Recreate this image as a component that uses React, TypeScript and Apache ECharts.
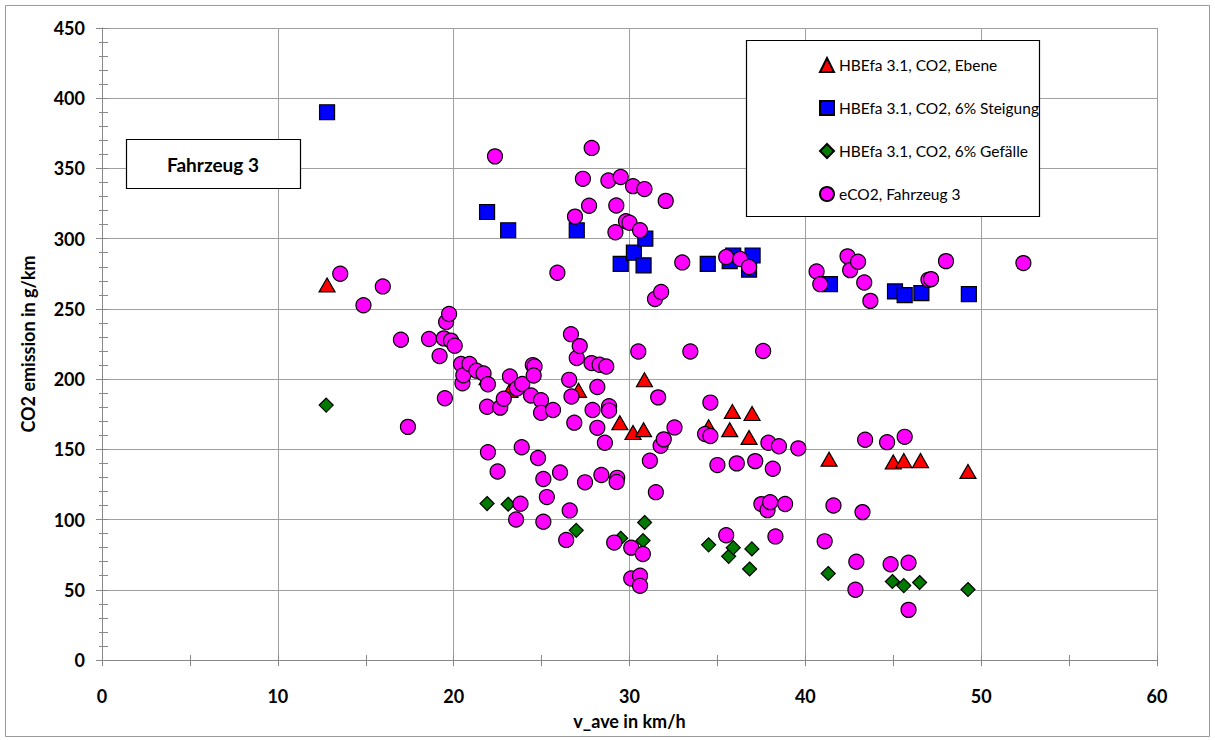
import React, { useEffect, useRef } from "react";
import * as echarts from "echarts";

// [v_ave km/h, CO2 g/km]
const ebene: number[][] = [
  [12.8, 267], [21.9, 201], [23.2, 192], [27.1, 192], [29.45, 169], [30.2, 162], [30.8, 164],
  [30.85, 199.5], [34.5, 166], [35.7, 164], [35.85, 177], [36.8, 158.5], [36.97, 175.5],
  [41.35, 143], [45.0, 141], [45.6, 142], [46.55, 142], [49.25, 134.3],
];

const steigung: number[][] = [
  [12.8, 390], [21.9, 319], [23.1, 306], [27.0, 306], [29.5, 282], [30.25, 290], [30.8, 281],
  [30.9, 300], [34.45, 282], [35.7, 284], [35.9, 288], [36.8, 278], [37.0, 288], [41.4, 267.6],
  [45.1, 262.4], [45.65, 259.8], [46.6, 261.2], [49.3, 260.5],
];

const gefaelle: number[][] = [
  [12.75, 181.5], [21.9, 111.4], [23.1, 110.9], [26.97, 92.3], [29.5, 86.7], [30.77, 85],
  [30.86, 97.9], [34.5, 82], [35.64, 73.8], [35.9, 80], [36.83, 64.8], [36.96, 79.1],
  [41.3, 61.6], [44.95, 55.9], [45.6, 53], [46.5, 55.2], [49.25, 50.2],
];

const eco2: number[][] = [
  [13.55, 275], [14.87, 252.6], [15.97, 266], [17.0, 228], [17.4, 166], [18.6, 228.6], [19.2, 216.4],
  [19.44, 229], [19.5, 186.4], [19.57, 240.7], [19.74, 246.4], [19.85, 227.4], [20.06, 223.8],
  [20.42, 210.8], [20.5, 197], [20.55, 202.7], [20.9, 210.8], [21.3, 206], [21.7, 204],
  [21.9, 180.3], [21.95, 196.3], [21.95, 147.9], [22.35, 358.6], [22.5, 134.2], [22.65, 179.7],
  [22.85, 186], [23.2, 201.9], [23.55, 100], [23.6, 193.3], [23.8, 111.3], [23.87, 151.5],
  [23.9, 196.5], [24.4, 188.3], [24.5, 210], [24.6, 209], [24.55, 202.6], [24.8, 143.8],
  [24.97, 185], [24.97, 176], [25.1, 128.9], [25.1, 98.5], [25.3, 116], [25.65, 178],
  [25.9, 275.7], [26.05, 133.5], [26.4, 85.5], [26.57, 199.5], [26.6, 106.5], [26.67, 232],
  [26.7, 187.6], [26.86, 169], [26.9, 315.7], [27.0, 215], [27.17, 223.5], [27.35, 342.6],
  [27.47, 126.5], [27.7, 323.4], [27.84, 211.4], [27.85, 364.6], [27.9, 178], [28.17, 194.4],
  [28.17, 165.3], [28.3, 210.2], [28.4, 131.7], [28.6, 154.7], [28.68, 209], [28.8, 341.4],
  [28.84, 180.7], [28.84, 177.6], [29.13, 83.6], [29.2, 304.6], [29.25, 323.6], [29.3, 129.7],
  [29.27, 126.8], [29.5, 343.9], [29.8, 312.4], [30.0, 311.4], [30.1, 80], [30.1, 58],
  [30.2, 337.4], [30.5, 219.7], [30.6, 306], [30.6, 60], [30.6, 52.8], [30.76, 75.5],
  [30.85, 335.3], [31.16, 141.9], [31.45, 257], [31.5, 119.5], [31.63, 187], [31.77, 152.6],
  [31.8, 262], [31.95, 157.1], [32.06, 326.9], [32.56, 165.6], [33.0, 283.1], [33.46, 219.7],
  [34.3, 160.9], [34.6, 159.5], [34.6, 183.3], [35.0, 138.8], [35.5, 88.8], [35.5, 287],
  [36.1, 140], [36.3, 285.5], [36.8, 279.8], [37.15, 141.6], [37.5, 111], [37.6, 220],
  [37.85, 106.7], [37.9, 154.7], [38.0, 112.4], [38.15, 136.2], [38.3, 88], [38.5, 152.2],
  [38.85, 111.1], [39.6, 150.7], [40.64, 276.6], [40.85, 267.6], [41.1, 84.5], [41.6, 110],
  [42.4, 287.4], [42.55, 277.6], [42.85, 50], [42.9, 70], [43.0, 283.6], [43.25, 105.3],
  [43.35, 268.8], [43.4, 156.8], [43.7, 255.7], [44.65, 155.1], [44.85, 68.2], [45.65, 158.9],
  [45.87, 69.3], [45.87, 35.7], [47.0, 270.7], [47.15, 271.2], [48.0, 284], [52.4, 282.6],
];

const seriesNames = [
  "HBEfa 3.1, CO2, Ebene",
  "HBEfa 3.1, CO2, 6% Steigung",
  "HBEfa 3.1, CO2, 6% Gefälle",
  "eCO2, Fahrzeug 3",
];

const xTitle = "v_ave in km/h";
const yTitle = "CO2 emission in g/km";
const boxLabel = "Fahrzeug 3";

const FONT = "Lato, 'Open Sans', sans-serif";

export default function App() {
  const ref = useRef<HTMLDivElement>(null);
  useEffect(() => {
    const chart = echarts.init(ref.current!, null, { renderer: "svg" });
    const gridColor = "#a0a0a0";
    const axisColor = "#888888";
    const mainX = {
      type: "value",
      min: 0,
      max: 60,
      interval: 10,
      position: "bottom",
      name: xTitle,
      nameLocation: "middle",
      nameGap: 52,
      nameTextStyle: { fontFamily: FONT, fontWeight: "bold", fontSize: 18, color: "#000" },
      axisLine: { show: true, lineStyle: { color: axisColor, width: 1 } },
      axisTick: { show: true, inside: false, length: 6, lineStyle: { color: axisColor } },
      minorTick: { show: true, splitNumber: 2, length: 6, lineStyle: { color: axisColor } },
      axisLabel: { fontFamily: FONT, fontWeight: "bold", fontSize: 18, color: "#000", margin: 27 },
      splitLine: { show: true, lineStyle: { color: gridColor, width: 1 } },
    };
    const innerX = {
      type: "value",
      min: 0,
      max: 60,
      interval: 10,
      position: "bottom",
      axisLine: { show: false },
      axisTick: { show: true, inside: true, length: 5, lineStyle: { color: axisColor } },
      minorTick: { show: true, splitNumber: 2, length: 5, lineStyle: { color: axisColor } },
      axisLabel: { show: false },
      splitLine: { show: false },
    };
    const mainY = {
      type: "value",
      min: 0,
      max: 450,
      interval: 50,
      position: "left",
      name: yTitle,
      nameLocation: "middle",
      nameGap: 65,
      nameRotate: 90,
      nameTextStyle: { fontFamily: FONT, fontWeight: "bold", fontSize: 18, color: "#000" },
      axisLine: { show: true, lineStyle: { color: axisColor, width: 1 } },
      axisTick: { show: true, inside: false, length: 6, lineStyle: { color: axisColor } },
      minorTick: { show: true, splitNumber: 5, length: 3, lineStyle: { color: axisColor } },
      axisLabel: { fontFamily: FONT, fontWeight: "bold", fontSize: 18, color: "#000", margin: 17 },
      splitLine: { show: true, lineStyle: { color: gridColor, width: 1 } },
    };
    const innerY = {
      type: "value",
      min: 0,
      max: 450,
      interval: 50,
      position: "left",
      offset: 0,
      axisLine: { show: false },
      axisTick: { show: true, inside: true, length: 6, lineStyle: { color: axisColor } },
      minorTick: { show: true, splitNumber: 5, length: 6, lineStyle: { color: axisColor } },
      axisLabel: { show: false },
      splitLine: { show: false },
    };
    const border = { borderColor: "#000", borderWidth: 1.2, opacity: 1 };
    chart.setOption({
      animation: false,
      backgroundColor: "#fff",
      grid: { left: 102, top: 28, width: 1055, height: 632, containLabel: false },
      xAxis: [mainX, innerX],
      yAxis: [mainY, innerY],
      legend: {
        show: true,
        orient: "vertical",
        left: 819,
        top: 57,
        itemWidth: 14,
        itemHeight: 14,
        itemGap: 27,
        padding: 0,
        selectedMode: false,
        textStyle: { fontFamily: FONT, fontSize: 15.5, color: "#000" },
        data: seriesNames,
      },
      graphic: [
        {
          type: "rect",
          z: 1,
          silent: true,
          shape: { x: 5.5, y: 5.5, width: 1204, height: 731 },
          style: { fill: "none", stroke: "#9a9a9a", lineWidth: 1 },
        },
        {
          type: "rect",
          z: 3,
          shape: { x: 746.5, y: 40.5, width: 293, height: 176 },
          style: { fill: "#fff", stroke: "#000", lineWidth: 1.2 },
        },
        {
          type: "rect",
          z: 3,
          shape: { x: 126.5, y: 139.5, width: 174, height: 49 },
          style: { fill: "#fff", stroke: "#000", lineWidth: 1.2 },
        },
        {
          type: "text",
          z: 4,
          x: 213,
          y: 164,
          style: {
            text: boxLabel,
            fontFamily: FONT,
            fontWeight: "bold",
            fontSize: 19,
            fill: "#000",
            align: "center",
            verticalAlign: "middle",
          },
        },
      ],
      series: [
        {
          name: seriesNames[0],
          type: "scatter",
          data: ebene,
          symbol: "triangle",
          symbolSize: [16, 14],
          itemStyle: { color: "#ff0000", ...border },
        },
        {
          name: seriesNames[1],
          type: "scatter",
          data: steigung,
          symbol: "rect",
          symbolSize: 15,
          itemStyle: { color: "#0000ff", ...border },
        },
        {
          name: seriesNames[2],
          type: "scatter",
          data: gefaelle,
          symbol: "diamond",
          symbolSize: 14,
          itemStyle: { color: "#007a00", ...border },
        },
        {
          name: seriesNames[3],
          type: "scatter",
          data: eco2,
          symbol: "circle",
          symbolSize: 15,
          itemStyle: { color: "#ff00ff", ...border },
        },
      ],
    });
    return () => chart.dispose();
  }, []);
  return (
    <div
      ref={ref}
      style={{ position: "absolute", left: 0, top: 0, width: 1215, height: 740 }}
    />
  );
}
